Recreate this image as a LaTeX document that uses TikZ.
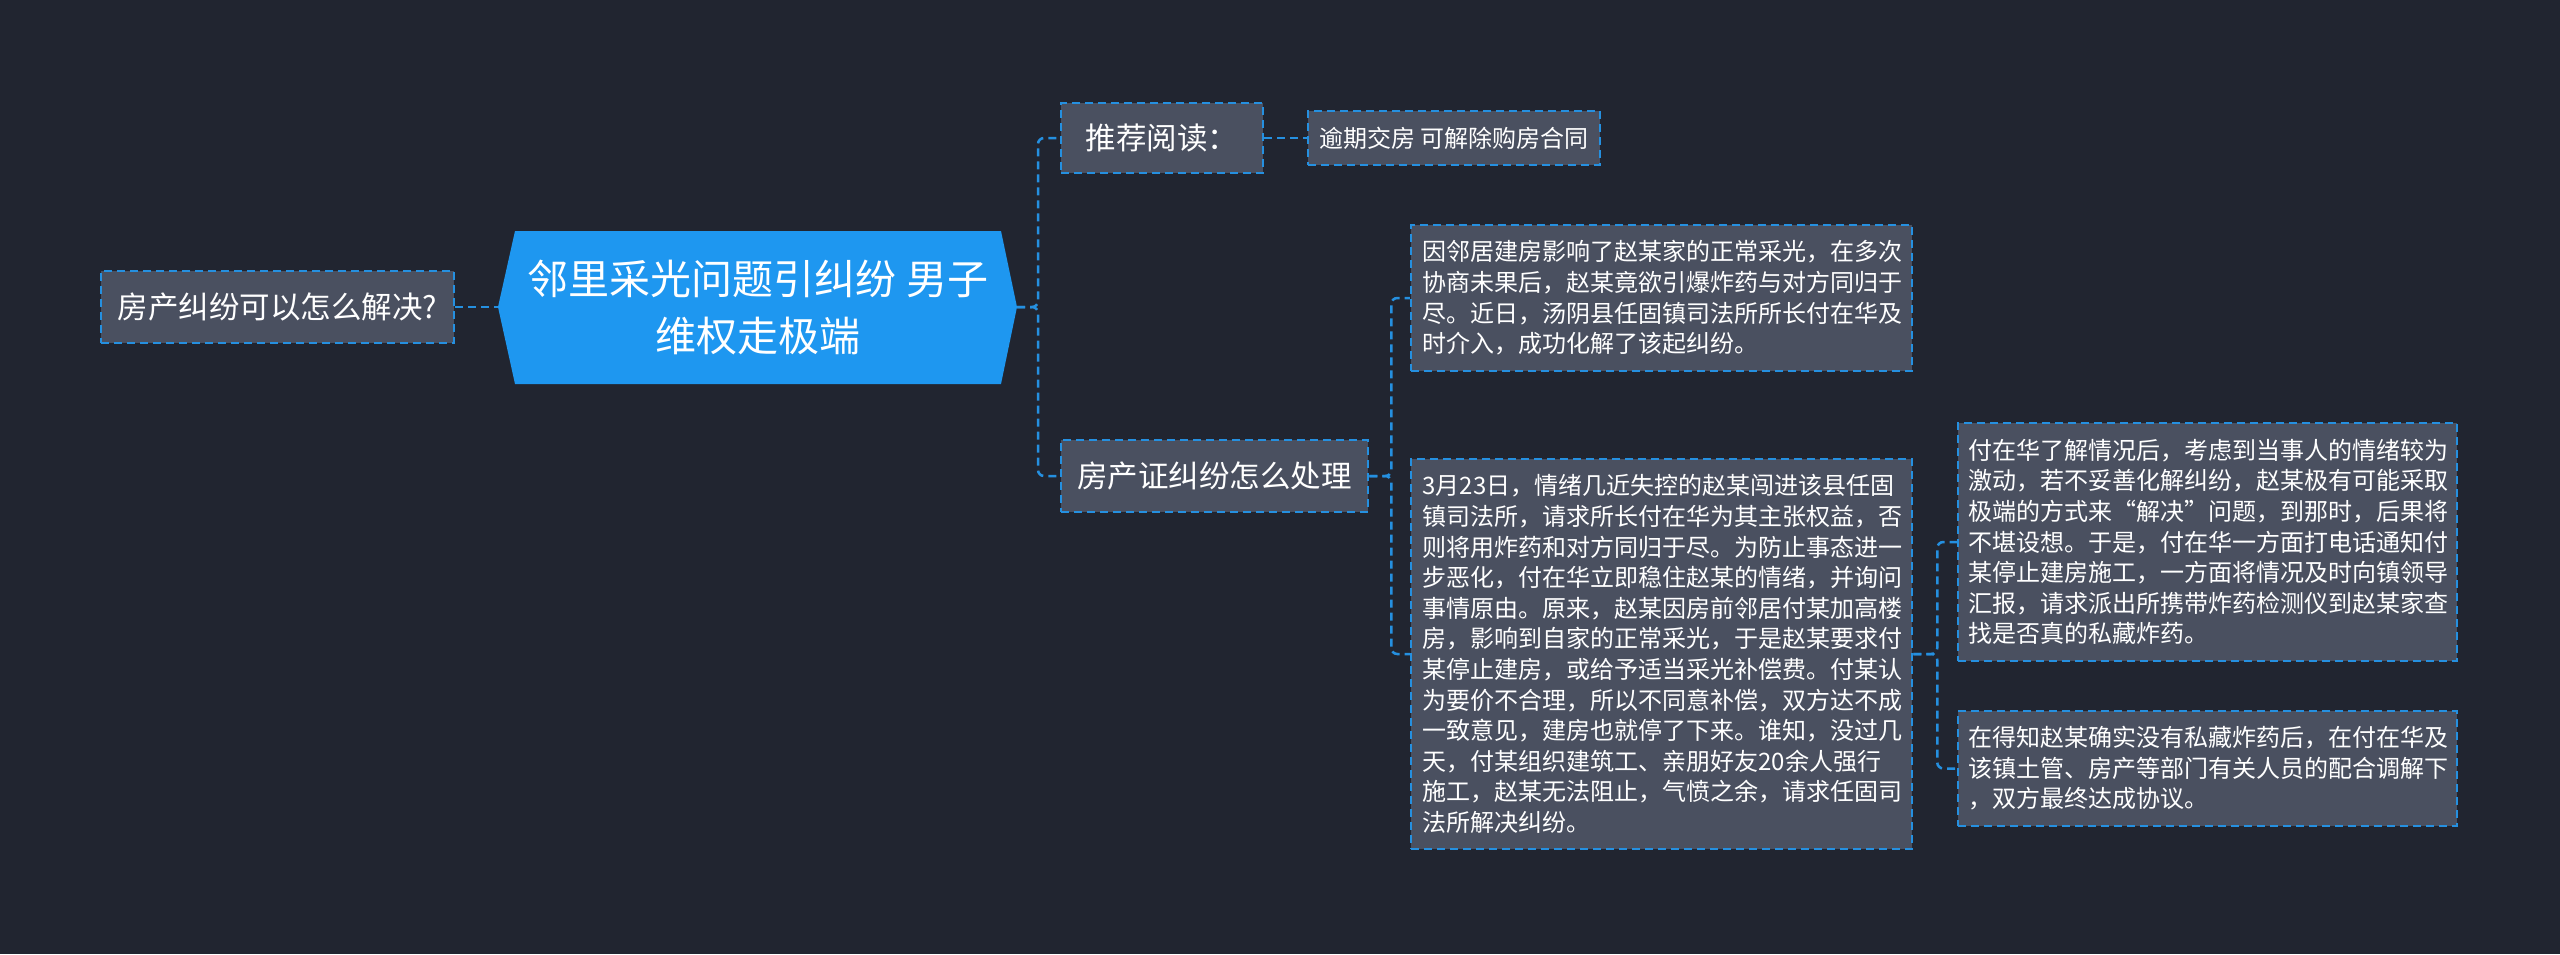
\documentclass[tikz,border=0pt]{standalone}
\usepackage{fontspec}
\newfontfamily\cjk{Noto Sans CJK SC}
\definecolor{bg}{HTML}{212530}
\definecolor{nodefill}{HTML}{4A5060}
\definecolor{linec}{HTML}{2590E0}
\definecolor{rootc}{HTML}{1E97F0}
\begin{document}
\begin{tikzpicture}[x=1pt,y=-1pt,
  conn/.style={draw=linec, line width=2.5pt, dash pattern=on 8pt off 5pt},
  box/.style={draw=linec, line width=2.5pt, dash pattern=on 8pt off 5pt, fill=nodefill, text=white, inner sep=0pt, align=center},
  big/.style={box, font=\cjk\fontsize{30.5}{36}\selectfont},
  para/.style={box, align=left, font=\cjk\fontsize{24}{30.6}\selectfont, text width=478pt}]
\fill[bg] (0,0) rectangle (2560,954);
\useasboundingbox (0,0) rectangle (2560,954);

% root
\fill[rootc] (498,307) -- (515,231) -- (1001,231) -- (1017,307) -- (1001,384) -- (515,384) -- cycle;
\node[text=white, font=\cjk\fontsize{41}{57}\selectfont, align=center] (root) at (758,307) {邻里采光问题引纠纷 男子\\维权走极端};
\coordinate (rootW) at (498,307);
\coordinate (rootE) at (1017,307);

% left
\node[big, minimum width=353pt, minimum height=72pt] (q) at (277.5,307) {房产纠纷可以怎么解决?};

% right
\node[big, minimum width=202pt, minimum height=70pt] (rec) at (1162,138) {推荐阅读：};
\node[box, font=\cjk\fontsize{24}{28}\selectfont, minimum width=292pt, minimum height=54pt] (rec1) at (1454,138) {逾期交房 可解除购房合同};
\node[big, minimum width=307pt, minimum height=72pt] (fcz) at (1214.5,476) {房产证纠纷怎么处理};

\node[para, minimum width=501pt, minimum height=146pt] (t1) at (1661.5,298) {因邻居建房影响了赵某家的正常采光，在多次\\协商未果后，赵某竟欲引爆炸药与对方同归于\\尽。近日，汤阴县任固镇司法所所长付在华及\\时介入，成功化解了该起纠纷。};

\node[para, minimum width=501pt, minimum height=390pt] (t2) at (1661.5,654) {3月23日，情绪几近失控的赵某闯进该县任固\\镇司法所，请求所长付在华为其主张权益，否\\则将用炸药和对方同归于尽。为防止事态进一\\步恶化，付在华立即稳住赵某的情绪，并询问\\事情原由。原来，赵某因房前邻居付某加高楼\\房，影响到自家的正常采光，于是赵某要求付\\某停止建房，或给予适当采光补偿费。付某认\\为要价不合理，所以不同意补偿，双方达不成\\一致意见，建房也就停了下来。谁知，没过几\\天，付某组织建筑工、亲朋好友20余人强行\\施工，赵某无法阻止，气愤之余，请求任固司\\法所解决纠纷。};

\node[para, minimum width=499pt, minimum height=238pt] (t3) at (2207.5,542) {付在华了解情况后，考虑到当事人的情绪较为\\激动，若不妥善化解纠纷，赵某极有可能采取\\极端的方式来“解决”问题，到那时，后果将\\不堪设想。于是，付在华一方面打电话通知付\\某停止建房施工，一方面将情况及时向镇领导\\汇报，请求派出所携带炸药检测仪到赵某家查\\找是否真的私藏炸药。};

\node[para, minimum width=499pt, minimum height=115pt] (t4) at (2207.5,768.5) {在得知赵某确实没有私藏炸药后，在付在华及\\该镇土管、房产等部门有关人员的配合调解下\\，双方最终达成协议。};

% connectors
\draw[conn] (q.east) -- (rootW);
\draw[conn, rounded corners=6pt] (rootE) -- ++(21,0) |- (rec.west);
\draw[conn, rounded corners=6pt] (rootE) -- ++(21,0) |- (fcz.west);
\draw[conn] (rec.east) -- (rec1.west);
\draw[conn, rounded corners=6pt] (fcz.east) -- ++(22,0) |- (t1.west);
\draw[conn, rounded corners=6pt] (fcz.east) -- ++(22,0) |- (t2.west);
\draw[conn, rounded corners=6pt] (t2.east) -- ++(24,0) |- (t3.west);
\draw[conn, rounded corners=6pt] (t2.east) -- ++(24,0) |- (t4.west);
\end{tikzpicture}
\end{document}
